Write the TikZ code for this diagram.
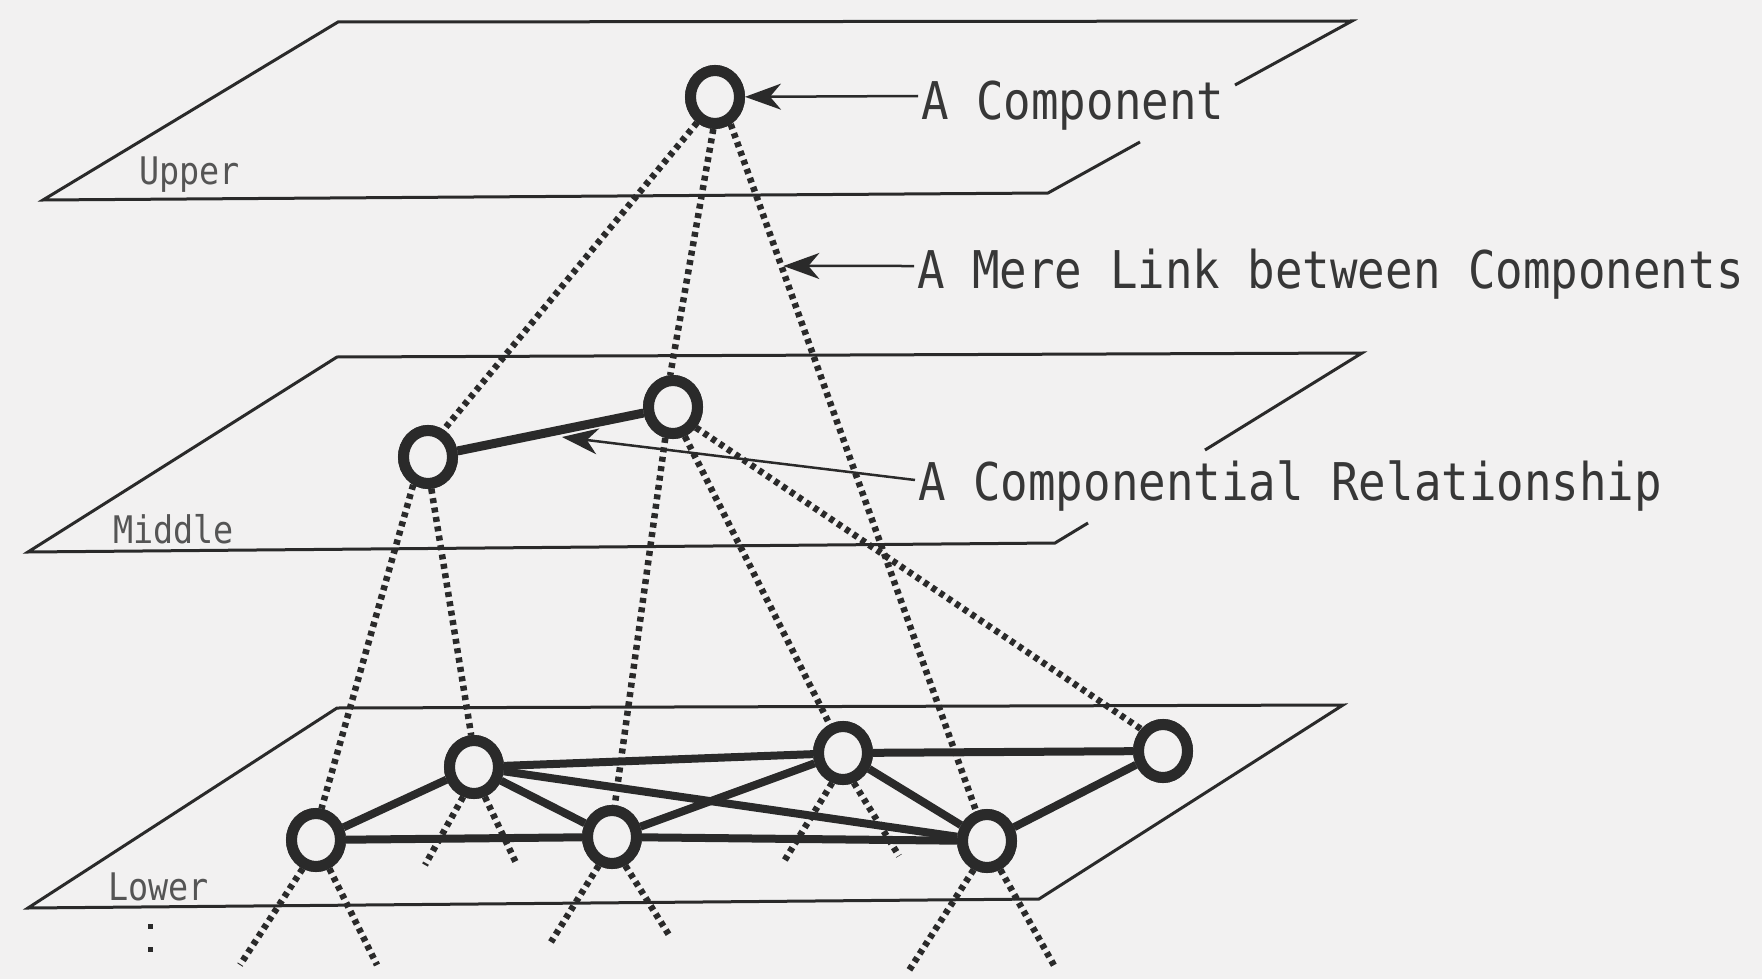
\documentclass[tikz,border=0pt]{standalone}
\usepackage{fontspec}
\newfontfamily\labfont[FakeStretch=0.88]{DejaVu Sans Mono}
\usetikzlibrary{shapes.geometric,arrows.meta,calc,intersections}
\definecolor{bg}{RGB}{242,241,241}
\definecolor{ink}{RGB}{42,42,42}
\definecolor{txt}{RGB}{55,55,55}
\begin{document}
\begin{tikzpicture}[x=1pt,y=-1pt,
  plane/.style={draw=ink,line width=3pt,line join=miter},
  comp/.style={ellipse,draw=ink,fill=bg,line width=11pt,minimum width=49pt,minimum height=53pt,inner sep=0pt},
  rel/.style={draw=ink,line width=8pt},
  link/.style={draw=ink,line width=6.5pt,dash pattern=on 5pt off 4.5pt},
  ann/.style={draw=ink,line width=2.5pt,-{Stealth[length=36pt,width=26pt,inset=11pt]}},
  bigtxt/.style={font=\labfont\fontsize{52}{60}\selectfont,text=txt,inner sep=0pt,anchor=base west},
  lvl/.style={font=\labfont\fontsize{38}{44}\selectfont,text=txt!85,inner sep=0pt,anchor=base west}]
\fill[bg] (0,0) rectangle (1762,979);
\useasboundingbox (0,0) rectangle (1762,979);
% planes
\draw[plane] (1235,85) -- (1352,21) -- (338,22) -- (43,200) -- (1048,193) -- (1140,142);
\draw[plane] (1205,450) -- (1362,353) -- (337,357) -- (28,552) -- (1055,543) -- (1088,523);
\draw[plane] (1343,705) -- (337,708) -- (28,908) -- (1039,899) -- cycle;
\node[lvl] (lu) at (139,185) {Upper};
\node[lvl] (lm) at (113,543) {Middle};
\node[lvl] (ll) at (108,900) {Lower};
% components
\node[comp] (U) at (715,97) {};
\node[comp] (M1) at (428,457) {};
\node[comp] (M2) at (673,407) {};
\node[comp] (L1) at (316,840) {};
\node[comp] (L2) at (474,767) {};
\node[comp] (L3) at (612,837) {};
\node[comp] (L4) at (843,753) {};
\node[comp] (L5) at (987,841) {};
\node[comp] (L6) at (1163,751) {};
% stub ends
\coordinate (s1a) at (240,965); \coordinate (s1b) at (377,965);
\coordinate (s2a) at (425,865); \coordinate (s2b) at (517,865);
\coordinate (s3a) at (551,942); \coordinate (s3b) at (669,935);
\coordinate (s4a) at (783,863); \coordinate (s4b) at (899,856);
\coordinate (s5a) at (908,972); \coordinate (s5b) at (1056,969);
\coordinate (d1) at (150,924); \coordinate (d2) at (150,956);
% mere links
\draw[link] (U.235) -- (M1.60);
\draw[link] (U.267) -- (M2.95);
\draw[link,name path=ul5] (U.300) -- (L5.110);
\draw[link] (M1.242) -- (L1.80);
\draw[link] (M1.276) -- (L2.95);
\draw[link] (M2.256) -- (L3.85);
\draw[link] (M2.292) -- (L4.115);
\draw[link] (M2.318) -- (L6.135);
\draw[link] (L1.245) -- (s1a);
\draw[link] (L1.295) -- (s1b);
\draw[link] (L2.250) -- (s2a);
\draw[link] (L2.290) -- (s2b);
\draw[link] (L3.245) -- (s3a);
\draw[link] (L3.295) -- (s3b);
\draw[link] (L4.250) -- (s4a);
\draw[link] (L4.290) -- (s4b);
\draw[link] (L5.245) -- (s5a);
\draw[link] (L5.295) -- (s5b);
\draw[draw=ink,line width=5pt,dash pattern=on 5pt off 18pt] (d1) -- (d2);
% componential relationships
\draw[rel,line width=9pt] (M1) -- (M2);
\draw[rel] (L1) -- (L2);
\draw[rel] (L1) -- (L3);
\draw[rel] (L2) -- (L3);
\draw[rel] (L2) -- (L4);
\draw[rel] (L2) -- (L5);
\draw[rel] (L3) -- (L4);
\draw[rel] (L3) -- (L5);
\draw[rel] (L4) -- (L5);
\draw[rel] (L4) -- (L6);
\draw[rel] (L5) -- (L6);
% redraw components on top
\foreach \p in {{715,97},{428,457},{673,407},{316,840},{474,767},{612,837},{843,753},{987,841},{1163,751}}
  \node[comp] at (\p) {};
% annotations
\node[bigtxt] (t1) at (921,120) {A Component};
\node[bigtxt] (t2) at (917,288) {A Mere Link between Components};
\node[bigtxt] (t3) at (918,500) {A Componential Relationship};
\draw[ann] ($(t1.base west)+(-3,-24)$) -- (U);
\coordinate (t2s) at ($(t2.base west)+(-3,-22)$);
\path[name path=mere] (t2s) -- +(-300,0);
\path[name intersections={of=ul5 and mere,by=mx}];
\draw[ann,shorten >=2pt] (t2s) -- (mx);
\coordinate (crtip) at (562,437);
\draw[ann] ($(t3.base west)+(-3,-20)$) -- (crtip);
\end{tikzpicture}
\end{document}
